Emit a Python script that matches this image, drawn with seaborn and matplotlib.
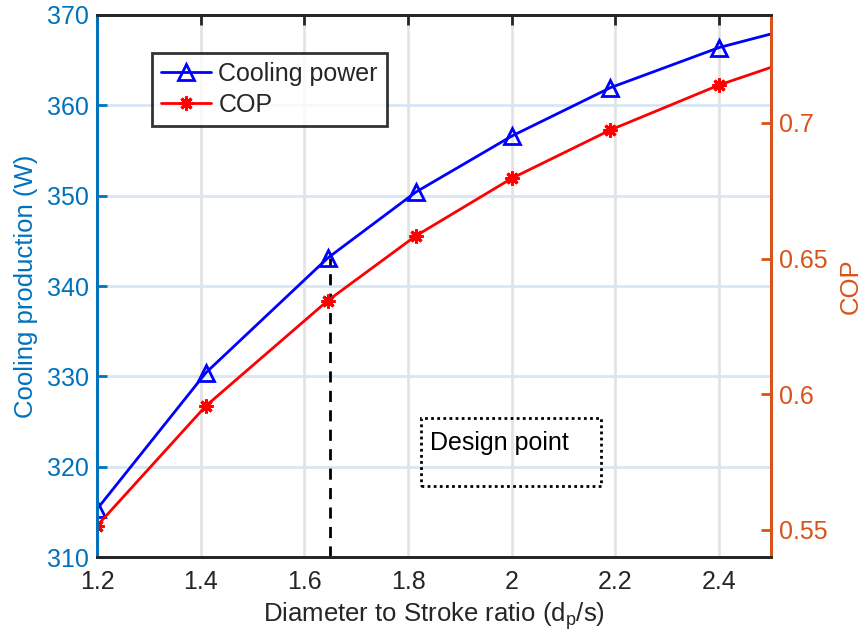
import matplotlib
matplotlib.use("Agg")
import matplotlib.pyplot as plt
import matplotlib.ticker as mticker
from matplotlib.patches import Rectangle
import pandas as pd
import seaborn as sns

# data
ratio = [1.2, 1.41, 1.645, 1.815, 2.0, 2.19, 2.4, 2.6]
cooling_power = [315.3, 330.4, 343.1, 350.4, 356.6, 361.95, 366.4, 369.4]
cop = [0.5515, 0.5957, 0.6345, 0.6584, 0.6796, 0.6974, 0.714, 0.727]
design_ratio = 1.65
design_cooling = 343.1

x_ticks = [1.2, 1.4, 1.6, 1.8, 2.0, 2.2, 2.4]
left_ticks = [310, 320, 330, 340, 350, 360, 370]
right_ticks = [0.55, 0.6, 0.65, 0.7]

LEFT_C = "#0072BD"
RIGHT_C = "#D95319"
DARK = "#262626"


def main():
    sns.set_style("white")
    plt.rcParams["font.family"] = ["Liberation Sans", "DejaVu Sans"]
    plt.rcParams["mathtext.fontset"] = "custom"
    plt.rcParams["mathtext.rm"] = "Liberation Sans"
    plt.rcParams["mathtext.it"] = "Liberation Sans"

    df = pd.DataFrame({"ratio": ratio, "cooling": cooling_power, "cop": cop})

    fig = plt.figure(figsize=(8.67, 6.41), dpi=100)
    ax = fig.add_axes([0.1119, 0.131, 0.7774, 0.8456])
    ax2 = ax.twinx()

    sns.lineplot(data=df, x="ratio", y="cooling", ax=ax, color="blue", lw=2,
                 marker="^", markersize=11, markerfacecolor="none",
                 markeredgecolor="blue", markeredgewidth=2,
                 label="Cooling power", legend=False)
    sns.lineplot(data=df, x="ratio", y="cop", ax=ax2, color="red", lw=2,
                 marker=(8, 2, 0), markersize=10, markeredgecolor="red",
                 markeredgewidth=2.2, label="COP", legend=False)

    ax.vlines(design_ratio, left_ticks[0], design_cooling, colors="black",
              linestyles=(0, (4, 3)), lw=2, zorder=1)

    ax.set_xlim(1.2, 2.5)
    ax.set_ylim(310, 370)
    ax2.set_ylim(0.54, 0.7398)
    ax.set_xticks(x_ticks)
    ax.set_yticks(left_ticks)
    ax2.set_yticks(right_ticks)
    fmt = mticker.FormatStrFormatter("%g")
    ax.xaxis.set_major_formatter(fmt)
    ax2.yaxis.set_major_formatter(fmt)

    # grid: vertical gray, horizontal light blue
    for xv in x_ticks[1:]:
        ax.axvline(xv, color="#e3e3e3", lw=2, zorder=0)
    for yv in left_ticks[1:-1]:
        ax.axhline(yv, color="#d8e7f3", lw=2, zorder=0)

    for a in (ax, ax2):
        for s in a.spines.values():
            s.set_linewidth(2)
            s.set_visible(True)
        a.spines["top"].set_color(DARK)
        a.spines["bottom"].set_color(DARK)
        a.spines["left"].set_color(LEFT_C)
        a.spines["right"].set_color(RIGHT_C)

    ax.tick_params(axis="x", direction="in", length=7, width=2, colors=DARK,
                   labelsize=18, pad=9, top=True)
    ax.tick_params(axis="y", direction="in", length=7, width=2, colors=LEFT_C,
                   labelsize=18, pad=6)
    ax2.tick_params(axis="y", direction="in", length=7, width=2, colors=RIGHT_C,
                    labelsize=18, pad=6)

    ax.set_xlabel(r"Diameter to Stroke ratio (d$_\mathrm{p}$/s)", fontsize=18.5,
                  color=DARK, labelpad=5)
    ax.set_ylabel("Cooling production (W)", fontsize=18.5, color=LEFT_C, labelpad=6)
    ax2.set_ylabel("COP", fontsize=18.5, color=RIGHT_C, labelpad=8)

    h1, l1 = ax.get_legend_handles_labels()
    h2, l2 = ax2.get_legend_handles_labels()
    leg = ax2.legend(h1 + h2, l1 + l2, loc="upper left",
                     bbox_to_anchor=(0.0816, 0.93), borderaxespad=0,
                     fontsize=18, frameon=True, fancybox=False,
                     handlelength=2.0, borderpad=0.35, labelspacing=0.3,
                     handletextpad=0.3)
    leg.get_frame().set_edgecolor("black")
    leg.get_frame().set_linewidth(2)

    ax2.add_patch(Rectangle((0.4807, 0.131), 0.2671, 0.1255, transform=ax2.transAxes,
                            fill=False, ec="black", lw=2, ls=(0, (1, 1.2))))
    ax2.text(0.494, 0.2103, "Design point", transform=ax2.transAxes,
             fontsize=18, va="center", ha="left", color="black")

    fig.savefig("out.png", dpi=100)


if __name__ == "__main__":
    main()
